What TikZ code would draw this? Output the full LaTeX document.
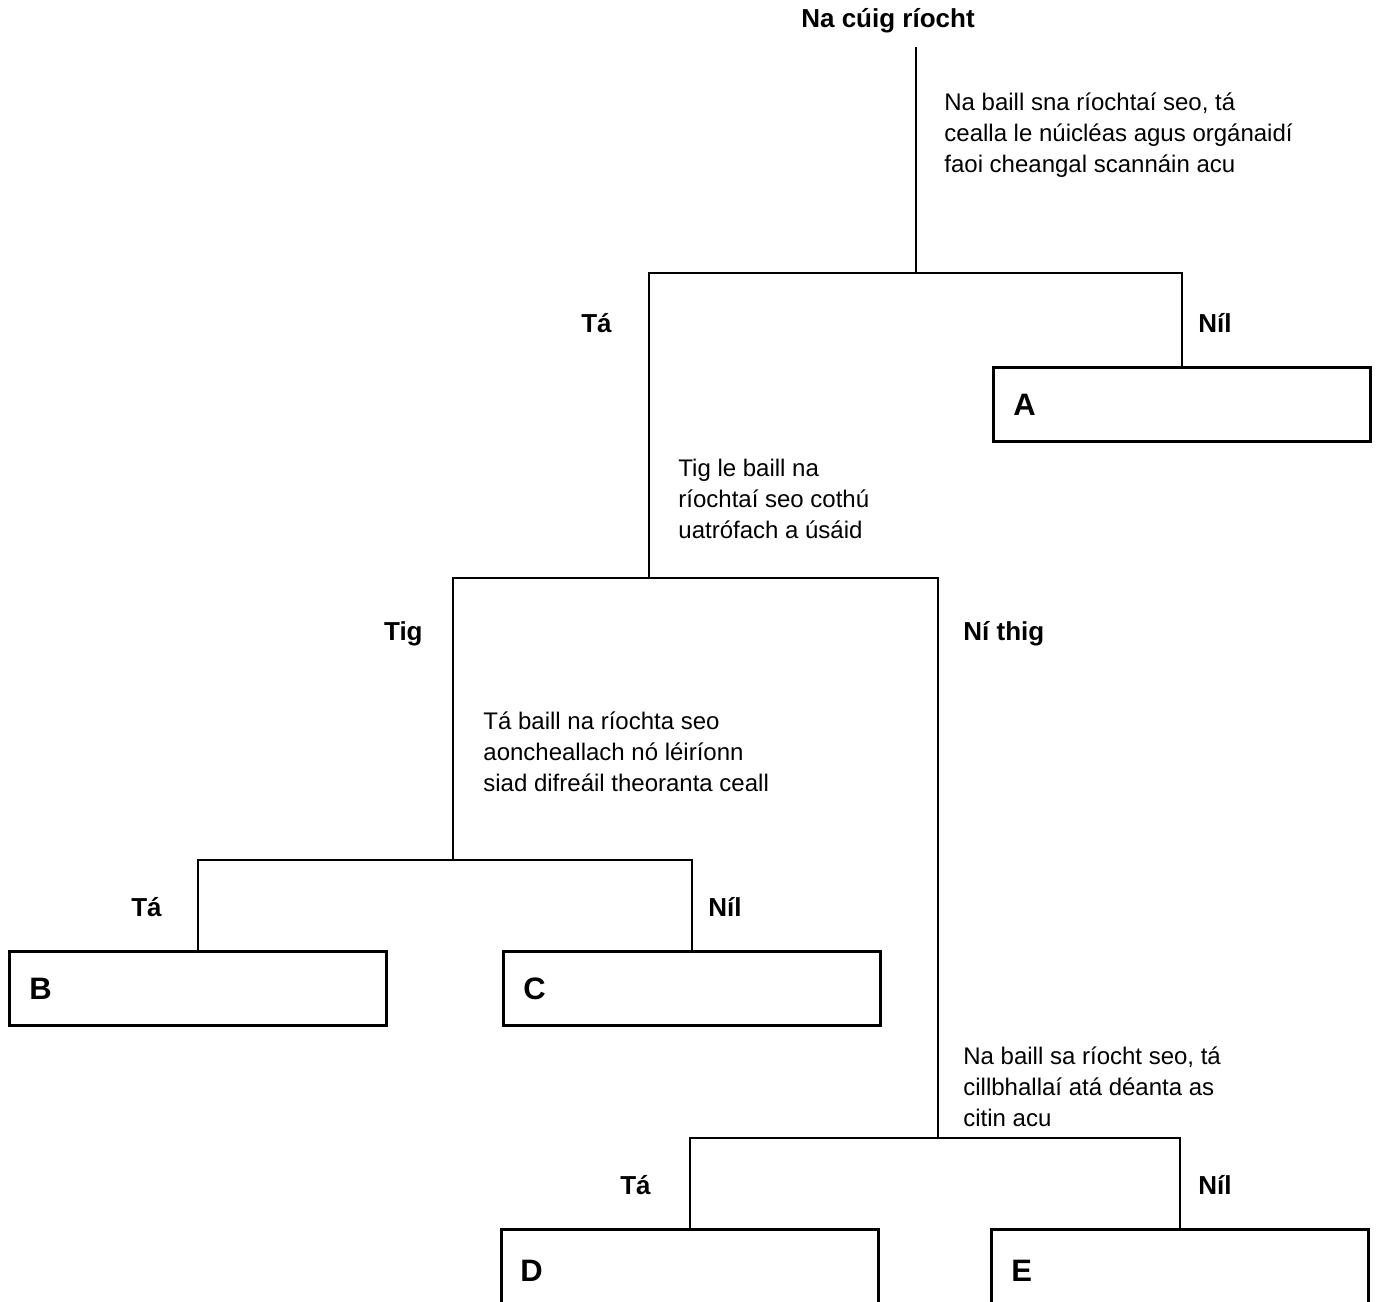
\documentclass[tikz,border=0pt]{standalone}
\usepackage{fontspec}
\setmainfont{Liberation Sans}
\usepackage{tikz}

\begin{document}
\begin{tikzpicture}[x=0.5pt, y=-0.5pt, line width=1.4pt,
        every node/.style={font=\fontsize{12}{15.5}\selectfont},
        question/.style={align=left, anchor=north west, inner sep=0pt},
        answer/.style={inner sep=0pt, font=\fontsize{13}{15.5}\selectfont\bfseries},
        letter/.style={inner sep=0pt, anchor=west, font=\fontsize{15.5}{17}\selectfont\bfseries},
        kingdom/.style={draw, anchor=north west, minimum height=37pt,
            text width=168.5pt, inner xsep=10pt, align=left,
            font=\fontsize{15.5}{17}\selectfont\bfseries}]
     \useasboundingbox (0,0) rectangle (1381,1301);
     \clip (0,0) rectangle (1381,1301);
     % title and split points
     \node[answer] (title) at (888,21) {Na cúig ríocht};
     \coordinate (top) at (916,47);
     \coordinate (s1) at (916,273);
     \coordinate (s2) at (649,578);
     \coordinate (s3) at (453,860);
     \coordinate (s4) at (938,1138);
     % questions
     \node[question] (q1) at (943,91) {Na baill sna ríochtaí seo, tá\\cealla le núicléas agus orgánaidí\\faoi cheangal scannáin acu};
     \node[question] (q2) at (677,458) {Tig le baill na\\ríochtaí seo cothú\\uatrófach a úsáid};
     \node[question] (q3) at (482,710) {Tá baill na ríochta seo\\aoncheallach nó léiríonn\\siad difreáil theoranta ceall};
     \node[question] (q4) at (962,1045) {Na baill sa ríocht seo, tá\\cillbhallaí atá déanta as\\citin acu};
     % kingdoms
     \node[kingdom] (A) at (992,366) {A};
     \node[kingdom] (B) at (8,950) {B};
     \node[kingdom] (C) at (502,950) {C};
     \node[kingdom, minimum height=60pt] (D) at (500,1228) {};
     \node[kingdom, minimum height=60pt] (E) at (990,1228) {};
     \node[letter] (dl) at (519,1271) {D};
     \node[letter] (el) at (1010,1271) {E};
     % answers
     \node[answer, anchor=east] (a1) at (613,323) {Tá};
     \node[answer, anchor=west] (a2) at (1197,323) {Níl};
     \node[answer, anchor=east] (a3) at (424,634) {Tig};
     \node[answer, anchor=west] (a4) at (962,634) {Ní thig};
     \node[answer, anchor=east] (a5) at (163,907) {Tá};
     \node[answer, anchor=west] (a6) at (707,907) {Níl};
     \node[answer, anchor=east] (a7) at (652,1185) {Tá};
     \node[answer, anchor=west] (a8) at (1197,1185) {Níl};
     % connectors
     \draw (top) -- (s1);
     \draw (s2) |- (s1) -| (A.north);
     \draw (s3) |- (s2) -| (s4);
     \draw (B.north) |- (s3) -| (C.north);
     \draw (D.north) |- (s4) -| (E.north);
\end{tikzpicture}
\end{document}
